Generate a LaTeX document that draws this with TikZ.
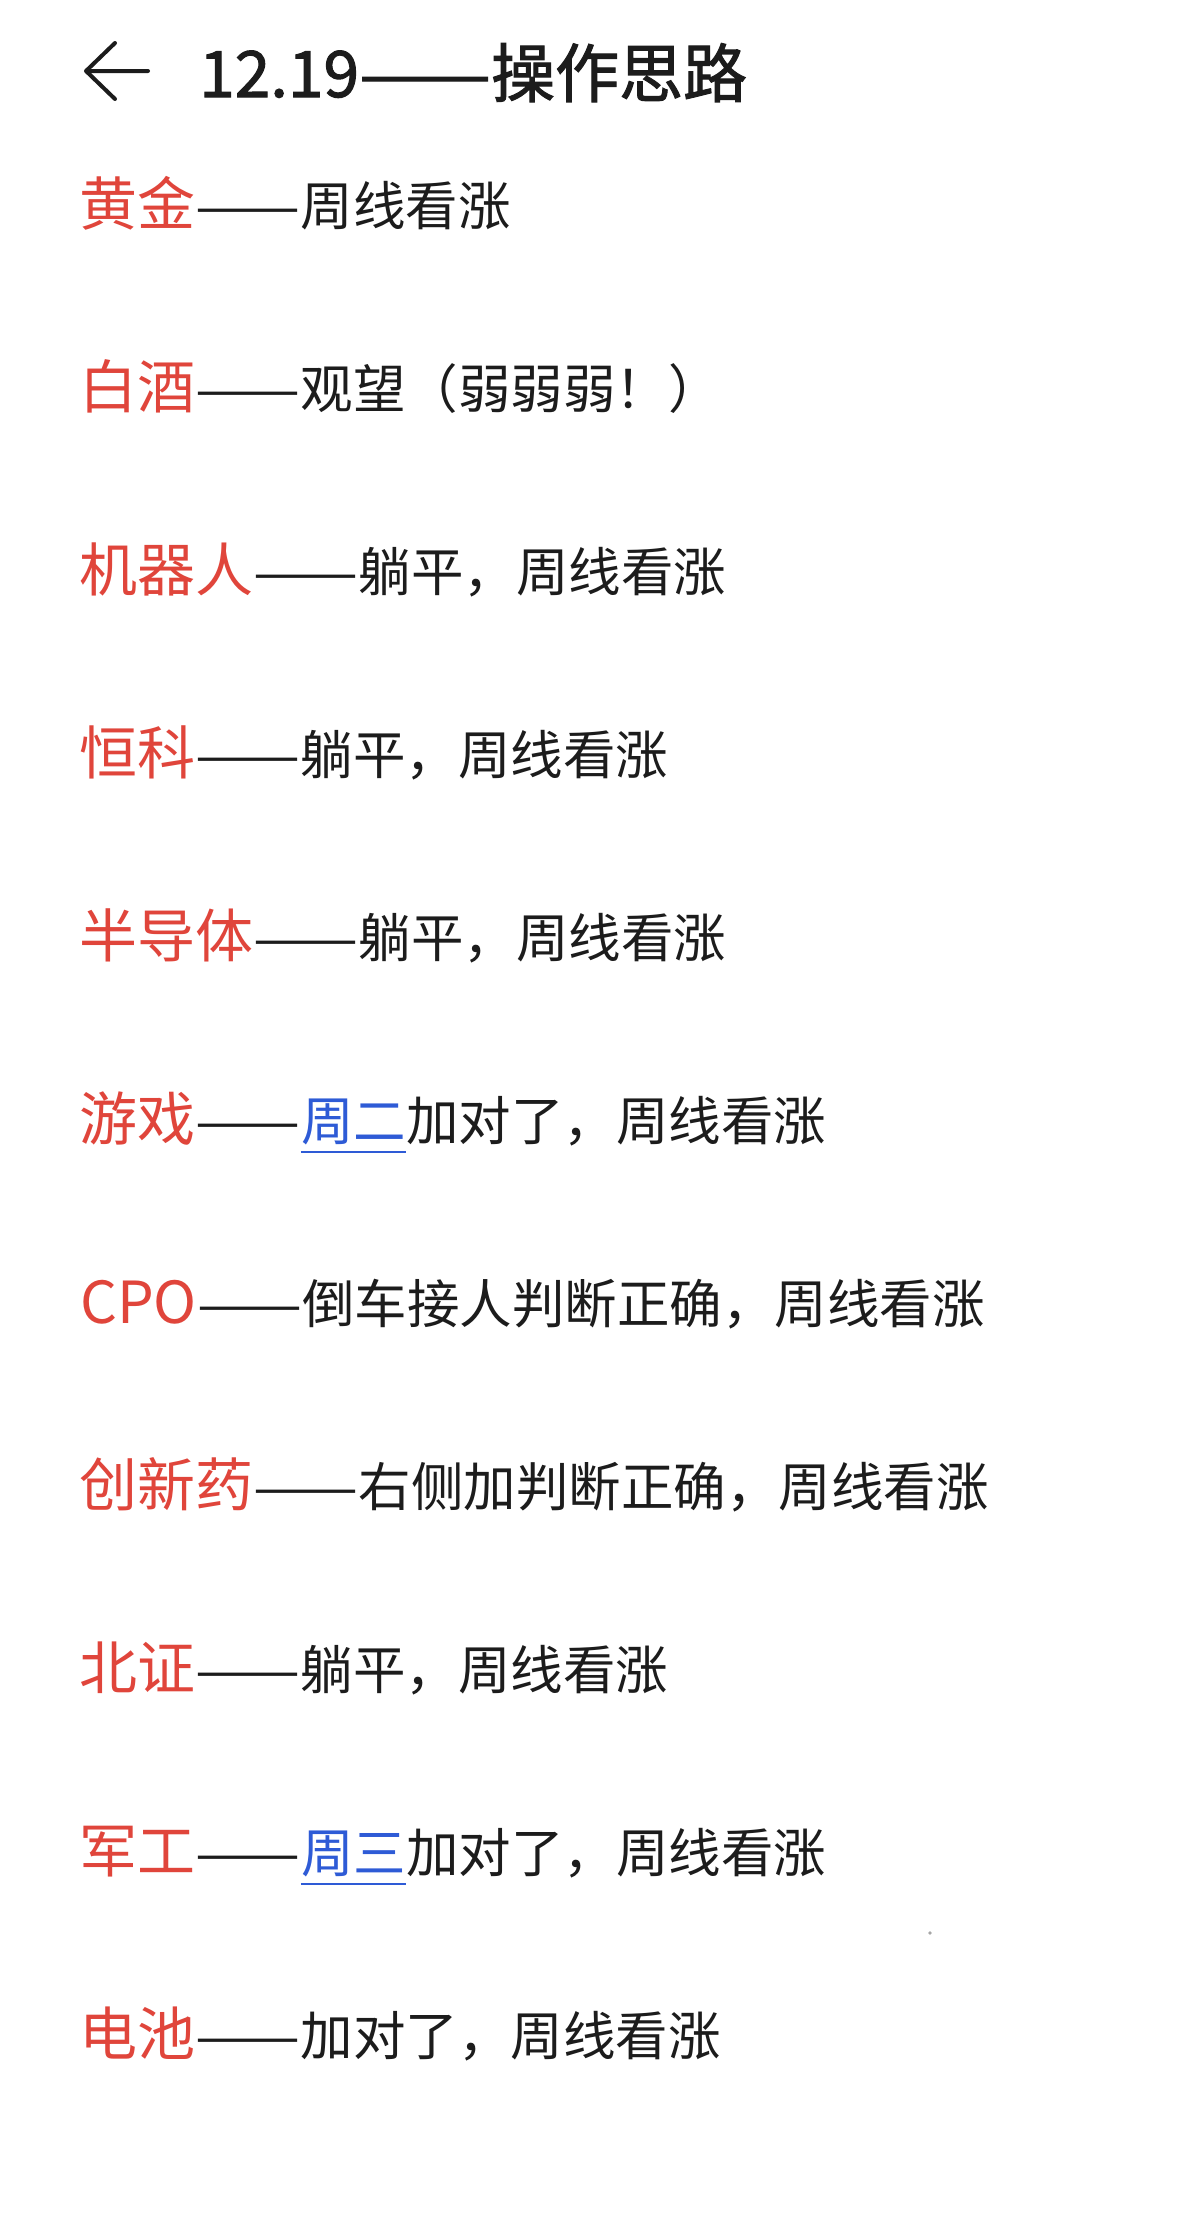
\documentclass[tikz,border=0pt]{standalone}
\usepackage{graphicx}
\usepackage{fontspec}
\setmainfont{Noto Sans CJK SC}
\newfontface\titleface{Noto Sans CJK SC}[FakeBold=1.6]
\definecolor{labred}{HTML}{E0453B}
\definecolor{linkblue}{HTML}{2E5BD6}
\definecolor{inkblack}{HTML}{1C1C1C}
\newcommand\dashpair{\resizebox{105pt}{\height}{——}}
\newcommand\titledash{\resizebox{132pt}{\height}{——}}
\tikzset{
  lab/.style={inner sep=0pt, anchor=base west, text=labred, font=\fontsize{58}{58}\selectfont},
  body/.style={inner sep=0pt, anchor=base west, text=inkblack, font=\fontsize{52.5}{52.5}\selectfont},
  link/.style={body, text=linkblue},
  uline/.style={draw=linkblue, line width=2.6pt},
  titletext/.style={inner sep=0pt, anchor=base west, text=inkblack, font=\titleface\fontsize{64}{64}\selectfont},
  backicon/.style={draw=inkblack, line width=4pt, line cap=round, line join=round},
}
\begin{document}
\begin{tikzpicture}[x=1pt,y=-1pt]
\useasboundingbox (0,0) rectangle (1183,2225);
\fill[white] (0,0) rectangle (1183,2225);
% header
\coordinate (aR) at (148,71);
\coordinate (aT) at (86,71);
\coordinate (aU) at (115,43);
\coordinate (aD) at (115,99);
\draw[backicon] (aR) -- (aT) (aU) -- (aT) -- (aD);
\node[titletext] (title) at (199,97) {12.19\titledash 操作思路};
% row 0
\node[lab] (l0) at (79,225.5) {黄金};
\node[body] (d0) at (l0.base east) {\dashpair 周线看涨};
% row 1
\node[lab] (l1) at (79,408.5) {白酒};
\node[body] (d1) at (l1.base east) {\dashpair 观望（弱弱弱！）};
% row 2
\node[lab] (l2) at (79,591.5) {机器人};
\node[body] (d2) at (l2.base east) {\dashpair 躺平，周线看涨};
% row 3
\node[lab] (l3) at (79,774.5) {恒科};
\node[body] (d3) at (l3.base east) {\dashpair 躺平，周线看涨};
% row 4
\node[lab] (l4) at (79,957.5) {半导体};
\node[body] (d4) at (l4.base east) {\dashpair 躺平，周线看涨};
% row 5
\node[lab] (l5) at (79,1140.5) {游戏};
\node[body] (d5) at (l5.base east) {\dashpair};
\node[link] (u5) at (d5.base east) {周二};
\node[body] (r5) at (u5.base east) {加对了，周线看涨};
\draw[uline] ([yshift=-11.5pt]u5.base west) -- ([yshift=-11.5pt]u5.base east);
% row 6
\node[lab] (l6) at (80,1323.5) {CPO};
\node[body] (d6) at (l6.base east) {\dashpair 倒车接人判断正确，周线看涨};
% row 7
\node[lab] (l7) at (79,1506.5) {创新药};
\node[body] (d7) at (l7.base east) {\dashpair 右侧加判断正确，周线看涨};
% row 8
\node[lab] (l8) at (79,1689.5) {北证};
\node[body] (d8) at (l8.base east) {\dashpair 躺平，周线看涨};
% row 9
\node[lab] (l9) at (79,1872.5) {军工};
\node[body] (d9) at (l9.base east) {\dashpair};
\node[link] (u9) at (d9.base east) {周三};
\node[body] (r9) at (u9.base east) {加对了，周线看涨};
\draw[uline] ([yshift=-11.5pt]u9.base west) -- ([yshift=-11.5pt]u9.base east);
% row 10
\node[lab] (l10) at (79,2055.5) {电池};
\node[body] (d10) at (l10.base east) {\dashpair 加对了，周线看涨};
% speck
\fill[gray!70] (930,1933) circle (1.8pt);
\end{tikzpicture}
\end{document}
